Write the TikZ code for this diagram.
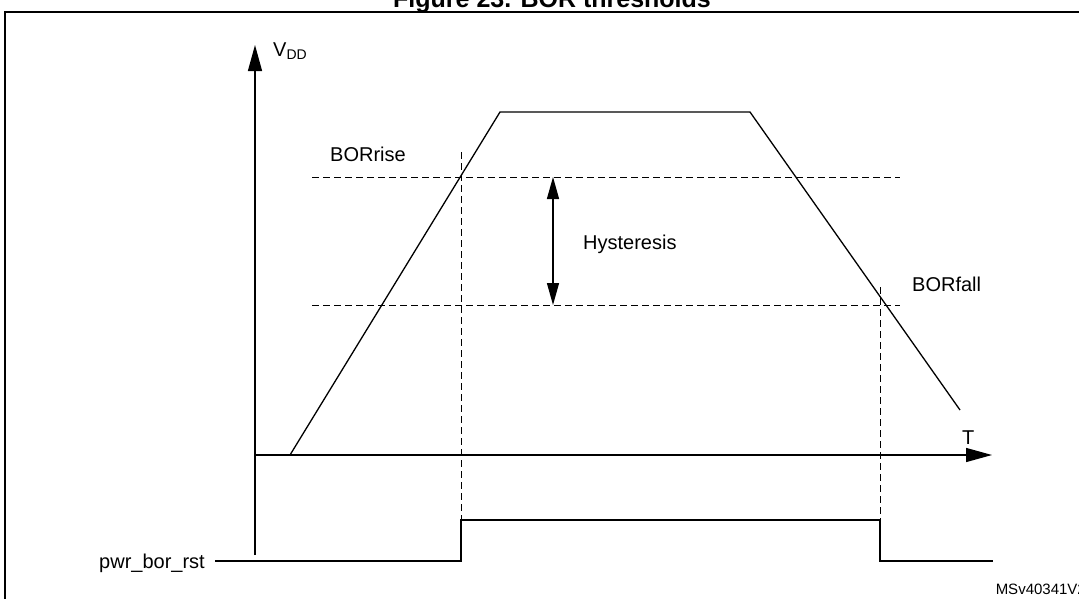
\documentclass[tikz,border=0pt]{standalone}
\usepackage{fontspec}
\setmainfont{Liberation Sans}
\usetikzlibrary{arrows.meta}
\begin{document}
\begin{tikzpicture}[x=1pt,y=-1pt,
  lbl/.style={font=\fontsize{20}{22}\selectfont, inner sep=0pt},
  dline/.style={dashed, dash pattern=on 7pt off 4pt, line width=1pt},
  sline/.style={line width=1.3pt},
  axarrow/.style={-{Triangle[length=26pt,width=14pt]}, line width=1.3pt}]
\useasboundingbox (0,0) rectangle (1079,598);
\clip (0,0) rectangle (1079,598);
\node[font=\bfseries\fontsize{25}{27}\selectfont, anchor=base, inner sep=0pt] (title) at (552,7) {Figure 23. BOR thresholds};
\draw[line width=2pt] (5,600) -- (5,12) -- (1090,12);
% axes
\coordinate (yb) at (255,555); \coordinate (yt) at (255,45);
\coordinate (xl) at (255,455); \coordinate (xr) at (992,455);
\draw[axarrow] (yb) -- (yt);
\draw[axarrow] (xl) -- (xr);
\node[lbl, anchor=south west] (vdd) at (273,60) {V\textsubscript{\fontsize{14}{14}\selectfont DD}};
\node[lbl, anchor=south west] (T) at (962,445) {T};
% trapezoid
\coordinate (p1) at (290,455); \coordinate (p2) at (500,112);
\coordinate (p3) at (750,112); \coordinate (p4) at (960,410);
\draw[sline] (p1) -- (p2) -- (p3) -- (p4);
% thresholds
\coordinate (r1) at (312,177); \coordinate (r2) at (900,177);
\coordinate (f1) at (312,305); \coordinate (f2) at (900,305);
\draw[dline] (r1) -- (r2);
\draw[dline] (f1) -- (f2);
\node[lbl, anchor=base west] (borrise) at (330,161) {BORrise};
\node[lbl, anchor=base west] (borfall) at (912,291) {BORfall};
\coordinate (h1) at (553,177); \coordinate (h2) at (553,305);
\draw[{Triangle[length=22pt,width=12pt]}-{Triangle[length=22pt,width=12pt]}, line width=1.3pt] (h1) -- (h2);
\node[lbl, anchor=base west] (hyst) at (583,249) {Hysteresis};
% verticals
\coordinate (v1t) at (461,152); \coordinate (v1b) at (461,561);
\coordinate (v2t) at (880,287); \coordinate (v2b) at (880,561);
\draw[dline] (v1t) -- (v1b);
\draw[dline] (v2t) -- (v2b);
% reset signal
\node[lbl, anchor=base east] (rst) at (205,568) {pwr\_bor\_rst};
\coordinate (s0) at (215,561); \coordinate (s1) at (461,561);
\coordinate (s2) at (461,520); \coordinate (s3) at (880,520);
\coordinate (s4) at (880,561); \coordinate (s5) at (993,561);
\draw[sline] (s0) -- (s1) -- (s2) -- (s3) -- (s4) -- (s5);
\node[font=\fontsize{15}{16}\selectfont, anchor=base east, inner sep=0pt] (ms) at (1086,594) {MSv40341V2};
\end{tikzpicture}
\end{document}
